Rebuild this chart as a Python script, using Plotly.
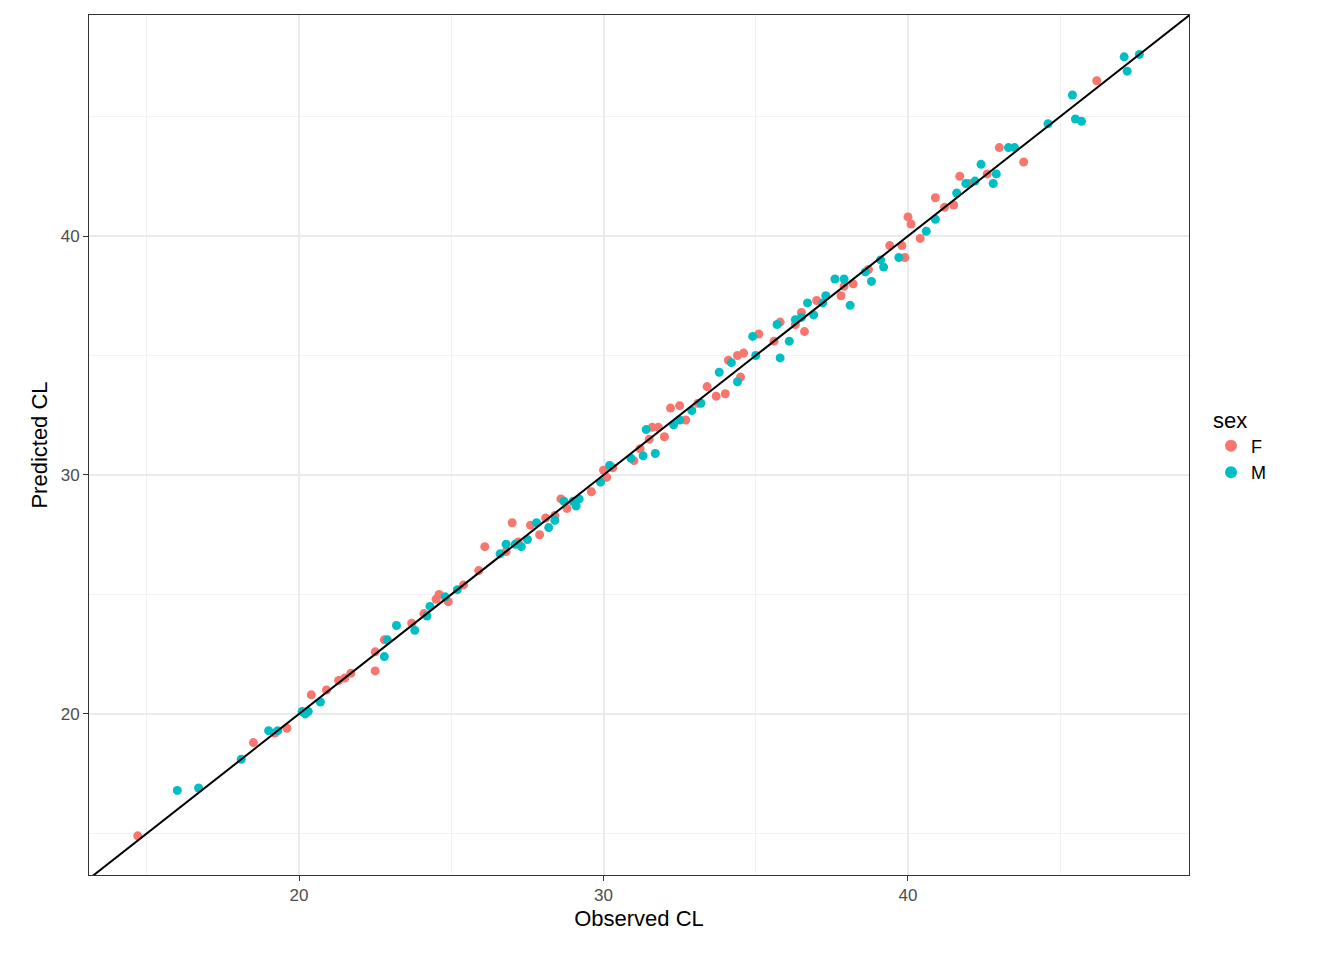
import plotly.graph_objects as go

# Observed vs predicted CL, by sex
f_obs = [14.7, 18.5, 19.2, 19.6, 20.4, 20.9, 21.3, 21.5, 21.7, 22.5, 22.5, 22.8, 23.7, 24.1, 24.5,
         24.6, 24.9, 25.4, 25.9, 26.1, 26.8, 27.0, 27.2, 27.6, 27.9, 28.1, 28.4, 28.6, 28.8, 29.6,
         30.0, 30.1, 30.3, 31.0, 31.2, 31.5, 31.6, 31.8, 32.0, 32.2, 32.5, 32.7, 33.1, 33.4, 33.7,
         34.0, 34.1, 34.4, 34.6, 34.5, 35.1, 35.6, 35.8, 36.3, 36.5, 36.6, 37.0, 37.8, 37.9, 38.2,
         38.7, 39.4, 39.8, 39.9, 40.0, 40.1, 40.4, 40.9, 41.2, 41.5, 41.7, 42.0, 42.6, 43.0, 43.8,
         46.2]
f_pred = [14.9, 18.8, 19.2, 19.4, 20.8, 21.0, 21.4, 21.5, 21.7, 22.6, 21.8, 23.1, 23.8, 24.2, 24.8,
          25.0, 24.7, 25.4, 26.0, 27.0, 26.8, 28.0, 27.2, 27.9, 27.5, 28.2, 28.3, 29.0, 28.6, 29.3,
          30.2, 29.9, 30.3, 30.6, 31.1, 31.5, 32.0, 32.0, 31.6, 32.8, 32.9, 32.3, 33.0, 33.7, 33.3,
          33.4, 34.8, 35.0, 35.1, 34.1, 35.9, 35.6, 36.4, 36.3, 36.8, 36.0, 37.3, 37.5, 37.9, 38.0,
          38.6, 39.6, 39.6, 39.1, 40.8, 40.5, 39.9, 41.6, 41.2, 41.3, 42.5, 42.2, 42.6, 43.7, 43.1,
          46.5]
m_obs = [16.0, 16.7, 18.1, 19.0, 19.3, 20.1, 20.2, 20.3, 20.7, 22.8, 22.9, 23.2, 23.8, 24.2, 24.3,
         24.8, 25.2, 26.6, 26.8, 27.1, 27.3, 27.5, 27.8, 28.2, 28.4, 28.7, 29.0, 29.1, 29.2, 29.9,
         30.2, 30.9, 31.3, 31.4, 31.7, 32.3, 32.5, 32.9, 33.2, 33.8, 34.2, 34.4, 34.9, 35.0, 35.7,
         35.8, 36.1, 36.3, 36.5, 36.7, 36.9, 37.3, 37.2, 37.6, 37.9, 38.1, 38.6, 38.8, 39.1, 39.2,
         39.7, 40.6, 40.9, 41.6, 41.9, 42.2, 42.4, 42.8, 42.9, 43.3, 43.5, 44.6, 45.4, 45.5, 45.7,
         47.1, 47.2, 47.6]
m_pred = [16.8, 16.9, 18.1, 19.3, 19.3, 20.1, 20.0, 20.1, 20.5, 22.4, 23.1, 23.7, 23.5, 24.1, 24.5,
          24.9, 25.2, 26.7, 27.1, 27.1, 27.0, 27.3, 28.0, 27.8, 28.1, 28.9, 28.9, 28.7, 29.0, 29.7,
          30.4, 30.7, 30.8, 31.9, 30.9, 32.1, 32.3, 32.7, 33.0, 34.3, 34.7, 33.9, 35.8, 35.0, 36.3,
          34.9, 35.6, 36.5, 36.6, 37.2, 36.7, 37.5, 37.2, 38.2, 38.2, 37.1, 38.5, 38.1, 39.0, 38.7,
          39.1, 40.2, 40.7, 41.8, 42.2, 42.3, 43.0, 42.2, 42.6, 43.7, 43.7, 44.7, 45.9, 44.9, 44.8,
          47.5, 46.9, 47.6]

x_range = [13.1, 49.23]
y_range = [13.26, 49.25]
ident = [0, 60]

fig = go.Figure()
fig.add_trace(go.Scatter(x=f_obs, y=f_pred, mode="markers", name="F",
                         marker=dict(color="#F8766D", size=9)))
fig.add_trace(go.Scatter(x=m_obs, y=m_pred, mode="markers", name="M",
                         marker=dict(color="#00BFC4", size=9)))
fig.add_trace(go.Scatter(x=ident, y=ident, mode="lines", showlegend=False,
                         line=dict(color="black", width=2), hoverinfo="skip"))

axis_common = dict(
    showline=True, linecolor="#333333", linewidth=1, mirror=True,
    gridcolor="#EBEBEB", gridwidth=2, zeroline=False,
    ticks="outside", ticklen=5, tickcolor="#333333",
    tickfont=dict(size=17, color="#4D4D4D"),
    dtick=10,
    minor=dict(dtick=5, showgrid=True, gridcolor="#F2F2F2", gridwidth=1, ticks=""),
)

fig.update_layout(
    width=1344, height=960,
    paper_bgcolor="white", plot_bgcolor="white",
    font=dict(family="Liberation Sans, Arial, sans-serif", color="black"),
    margin=dict(l=81, r=163, t=7, b=93),
    xaxis=dict(range=x_range, title=dict(text="Observed CL", font=dict(size=22), standoff=6), **axis_common),
    yaxis=dict(range=y_range, title=dict(text="Predicted CL", font=dict(size=22), standoff=6), **axis_common),
    legend=dict(title=dict(text="sex  ", font=dict(size=22)), x=1.02, y=0.5, yanchor="middle",
                font=dict(size=18), itemsizing="constant", tracegroupgap=10),
    showlegend=True,
)

fig.write_html("out.html")
